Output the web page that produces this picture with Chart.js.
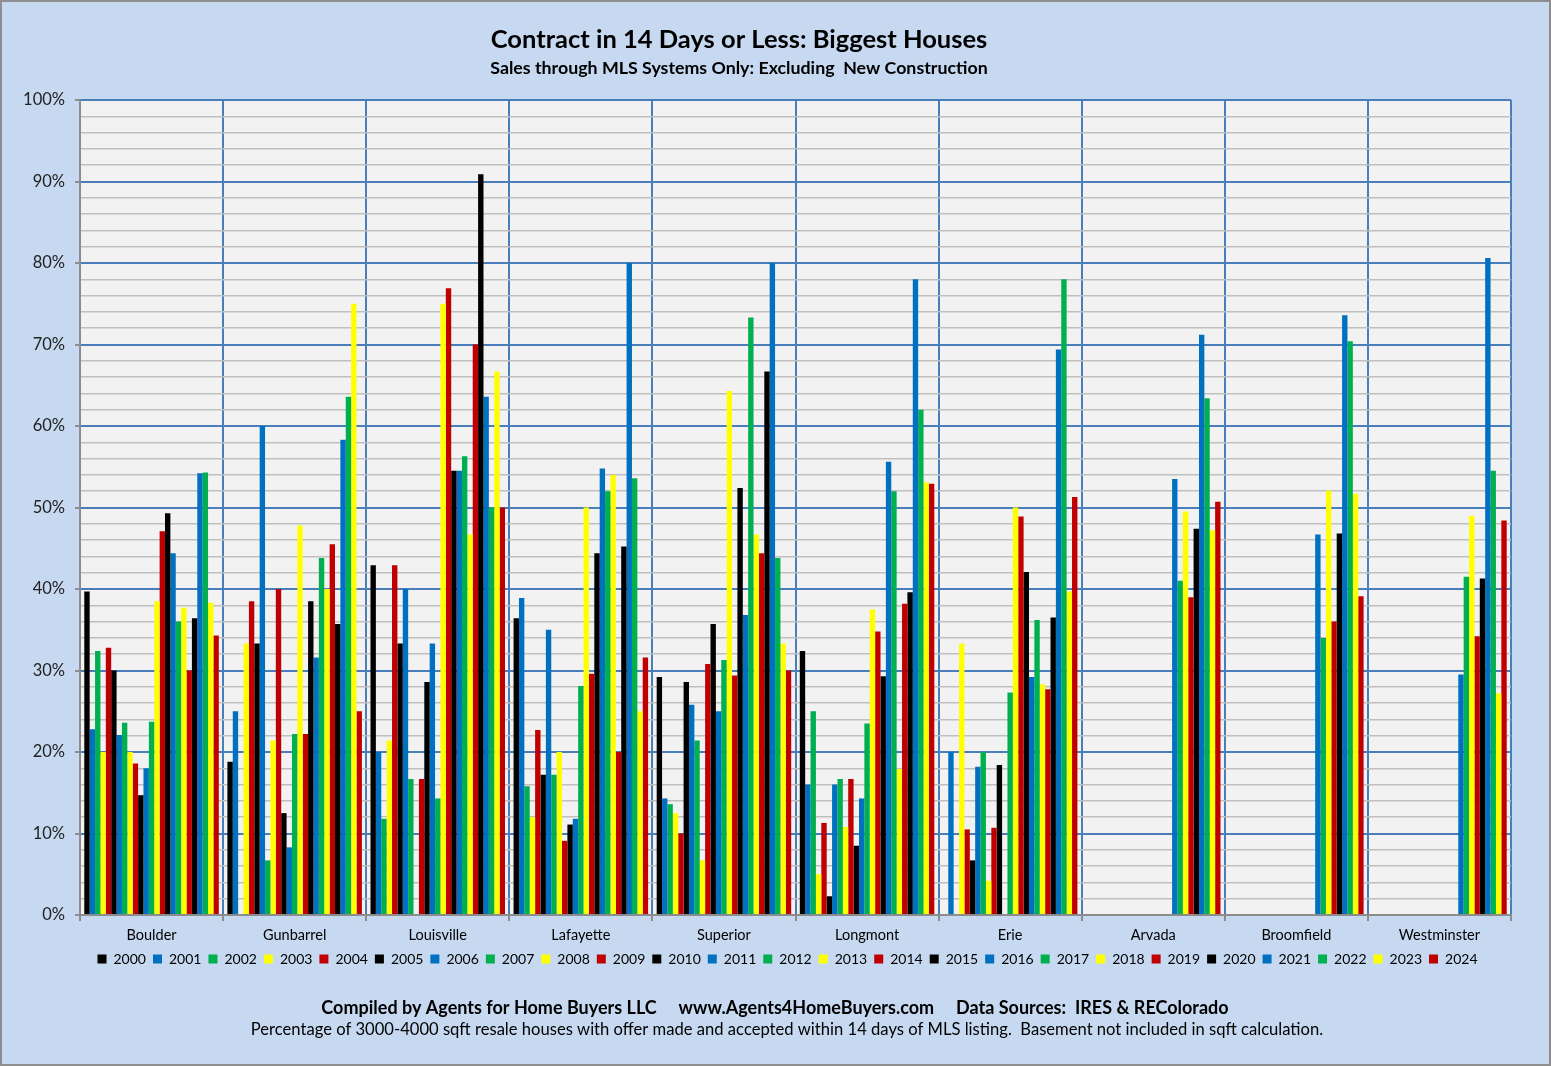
<!DOCTYPE html>
<html>
<head>
<meta charset="utf-8">
<title>Contract in 14 Days or Less: Biggest Houses</title>
<script src="https://cdn.jsdelivr.net/npm/chart.js@4.4.1/dist/chart.umd.min.js"></script>
<style>
  html, body { margin: 0; padding: 0; background: #c6d9f0; }
  #wrap { position: relative; width: 1551px; height: 1066px; }
</style>
</head>
<body>
<div id="wrap"><canvas id="chart"></canvas></div>
<script>
// categories and years
const cities = ['Boulder', 'Gunbarrel', 'Louisville', 'Lafayette', 'Superior',
                'Longmont', 'Erie', 'Arvada', 'Broomfield', 'Westminster'];
const years = ['2000', '2001', '2002', '2003', '2004', '2005', '2006', '2007', '2008',
               '2009', '2010', '2011', '2012', '2013', '2014', '2015', '2016', '2017',
               '2018', '2019', '2020', '2021', '2022', '2023', '2024'];

// % of houses under contract within 14 days, one value per year (2000..2024)
const boulder     = [39.7, 22.8, 32.4, 20.0, 32.8, 30.0, 22.1, 23.6, 20.0, 18.6, 14.7, 18.0, 23.7,
                     38.5, 47.1, 49.3, 44.4, 36.0, 37.7, 30.0, 36.4, 54.2, 54.3, 38.3, 34.3];
const gunbarrel   = [18.8, 25.0, null, 33.3, 38.5, 33.3, 60.0, 6.7, 21.4, 40.0, 12.5, 8.3, 22.2,
                     47.8, 22.2, 38.5, 31.6, 43.8, 40.0, 45.5, 35.7, 58.3, 63.6, 75.0, 25.0];
const louisville  = [42.9, 20.0, 11.8, 21.4, 42.9, 33.3, 40.0, 16.7, null, 16.7, 28.6, 33.3, 14.3,
                     75.0, 76.9, 54.5, 54.5, 56.3, 46.7, 70.0, 90.9, 63.6, 50.0, 66.7, 50.0];
const lafayette   = [36.4, 38.9, 15.8, 12.0, 22.7, 17.2, 35.0, 17.2, 20.0, 9.1, 11.1, 11.8, 28.1,
                     50.0, 29.6, 44.4, 54.8, 52.0, 54.0, 20.0, 45.2, 80.0, 53.6, 25.0, 31.6];
const superior    = [29.2, 14.3, 13.6, 12.5, 10.0, 28.6, 25.8, 21.4, 6.7, 30.8, 35.7, 25.0, 31.3,
                     64.3, 29.4, 52.4, 36.8, 73.3, 46.7, 44.4, 66.7, 80.0, 43.8, 33.3, 30.0];
const longmont    = [32.4, 16.0, 25.0, 5.0, 11.3, 2.3, 16.0, 16.7, 10.8, 16.7, 8.5, 14.3, 23.5,
                     37.5, 34.8, 29.3, 55.6, 52.0, 17.9, 38.2, 39.6, 78.0, 62.0, 53.1, 52.9];
const erie        = [null, 20.0, null, 33.3, 10.5, 6.7, 18.2, 20.0, 4.2, 10.7, 18.4, null, 27.3,
                     50.0, 48.9, 42.1, 29.2, 36.2, 28.3, 27.7, 36.5, 69.4, 78.0, 39.7, 51.3];
const arvada      = [null, null, null, null, null, null, null, null, null, null, null, null, null,
                     null, null, null, 53.5, 41.0, 49.5, 39.0, 47.4, 71.2, 63.4, 47.2, 50.7];
const broomfield  = [null, null, null, null, null, null, null, null, null, null, null, null, null,
                     null, null, null, 46.7, 34.0, 52.1, 36.0, 46.8, 73.6, 70.4, 51.7, 39.1];
const westminster = [null, null, null, null, null, null, null, null, null, null, null, null, null,
                     null, null, null, 29.5, 41.5, 49.0, 34.2, 41.3, 80.6, 54.5, 27.2, 48.4];

const cityValues = [boulder, gunbarrel, louisville, lafayette, superior,
                    longmont, erie, arvada, broomfield, westminster];

// colours repeat every five years
const yearColors = ['#000000', '#0070c0', '#00b050', '#ffff00', '#c00000'];

const FONT = 'Lato, "Open Sans", sans-serif';
const MAJOR = '#4a7ebb';
const MINOR = '#bfbfbf';
const AXIS = '#8c8c8c';

const datasets = years.map((yr, i) => ({
    label: yr,
    data: cityValues.map(vals => vals[i]),
    backgroundColor: yearColors[i % 5],
    borderWidth: 0,
    categoryPercentage: 0.94,
    barPercentage: 1.0
}));

// background, plot area fill, titles and footer text
const decor = {
    id: 'decor',
    afterLayout(chart) {
        // legend in the original sits a little right of the canvas centre
        if (chart.legend) {
            chart.legend.left += 32;
            chart.legend.right += 32;
        }
    },
    beforeDraw(chart) {
        const { ctx, chartArea: a } = chart;
        ctx.save();
        ctx.fillStyle = '#c6d9f0';
        ctx.fillRect(0, 0, chart.width, chart.height);
        ctx.fillStyle = '#f2f2f2';
        ctx.fillRect(a.left, a.top, a.right - a.left, a.bottom - a.top);
        ctx.restore();
    },
    afterDraw(chart) {
        const ctx = chart.ctx;
        ctx.save();
        ctx.fillStyle = '#000';
        ctx.textAlign = 'center';
        ctx.textBaseline = 'middle';
        ctx.font = 'bold 25.5px ' + FONT;
        ctx.fillText('Contract in 14 Days or Less: Biggest Houses', 739, 40);
        ctx.font = 'bold 17.8px ' + FONT;
        ctx.fillText('Sales through MLS Systems Only: Excluding  New Construction', 739, 68);
        ctx.font = 'bold 18px ' + FONT;
        ctx.fillText('Compiled by Agents for Home Buyers LLC     www.Agents4HomeBuyers.com     Data Sources:  IRES & REColorado', 775, 1008);
        ctx.font = '16.6px ' + FONT;
        ctx.fillText('Percentage of 3000-4000 sqft resale houses with offer made and accepted within 14 days of MLS listing.  Basement not included in sqft calculation.', 787, 1030);
        ctx.strokeStyle = '#8e8e8e';
        ctx.lineWidth = 2;
        ctx.strokeRect(1, 1, chart.width - 2, chart.height - 2);
        ctx.restore();
    }
};

new Chart(document.getElementById('chart'), {
    type: 'bar',
    data: { labels: cities, datasets: datasets },
    options: {
        responsive: true,
        maintainAspectRatio: false,
        animation: false,
        layout: { padding: { top: 100, left: 0, right: 40, bottom: 90 } },
        plugins: {
            title: { display: false },
            tooltip: { enabled: false },
            legend: {
                position: 'bottom',
                labels: {
                    boxWidth: 9,
                    boxHeight: 9,
                    padding: 7,
                    color: '#000',
                    font: { family: FONT, size: 14 }
                }
            }
        },
        scales: {
            x: {
                grid: {
                    offset: true,
                    color: MAJOR,
                    lineWidth: 2,
                    tickLength: 6,
                    tickColor: AXIS
                },
                border: { color: AXIS, width: 2 },
                ticks: { color: '#000', padding: 6, font: { family: FONT, size: 14.5 } },
                afterFit(scale) { scale.height = 30; }
            },
            y: {
                min: 0,
                max: 100,
                ticks: {
                    stepSize: 2,
                    autoSkip: false,
                    padding: 10,
                    color: '#222',
                    font: { family: FONT, size: 16.5 },
                    callback: v => (v % 10 === 0 ? v + '%' : '')
                },
                grid: {
                    color: c => (c.tick.value === 0 ? AXIS : (c.tick.value % 10 === 0 ? MAJOR : MINOR)),
                    lineWidth: c => (c.tick.value % 10 === 0 ? 2 : 1.5),
                    tickLength: 5,
                    tickColor: c => (c.tick.value % 10 === 0 ? AXIS : 'rgba(0,0,0,0)')
                },
                border: { color: AXIS, width: 2 },
                afterFit(scale) { scale.width = 80; }
            }
        }
    },
    plugins: [decor]
});
</script>
</body>
</html>
